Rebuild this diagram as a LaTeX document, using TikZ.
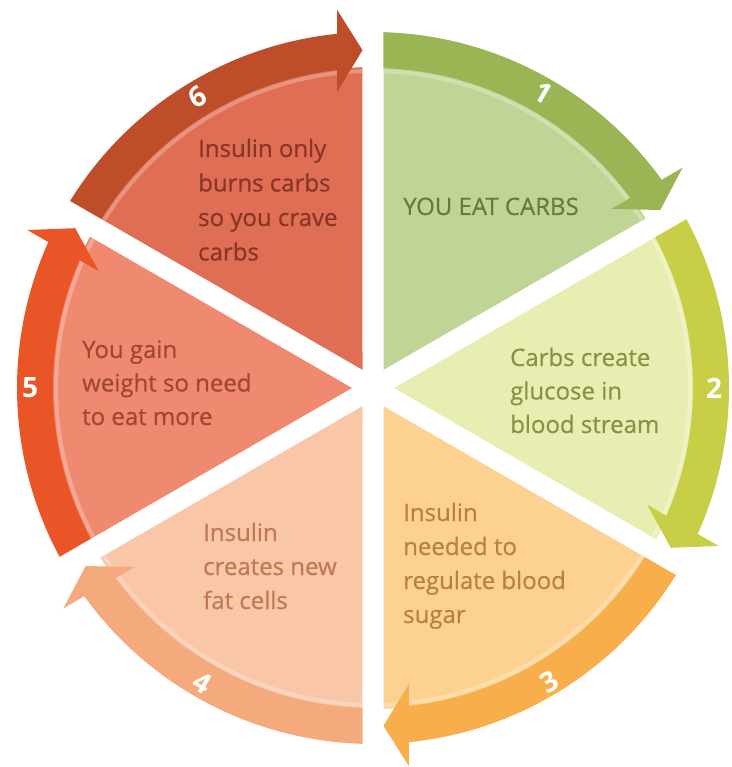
\documentclass[tikz,border=0pt]{standalone}
\usepackage{fontspec}
\setmainfont{Open Sans}
\newfontfamily\slicefont[FakeBold=0.5]{Open Sans}
% wedge fills
\definecolor{wA}{HTML}{C0D496}
\definecolor{wB}{HTML}{E8EEB2}
\definecolor{wC}{HTML}{FDD291}
\definecolor{wD}{HTML}{F9C6A8}
\definecolor{wE}{HTML}{EF8A70}
\definecolor{wF}{HTML}{E06E55}
% bands
\definecolor{bA}{HTML}{9BB555}
\definecolor{bB}{HTML}{C8CE46}
\definecolor{bC}{HTML}{F8AF4B}
\definecolor{bD}{HTML}{F5AA7D}
\definecolor{bE}{HTML}{EA5528}
\definecolor{bF}{HTML}{BE4E2A}
% texts
\definecolor{tA}{HTML}{6A7A38}
\definecolor{tB}{HTML}{889242}
\definecolor{tC}{HTML}{B58246}
\definecolor{tD}{HTML}{C07855}
\definecolor{tE}{HTML}{A04633}
\definecolor{tF}{HTML}{883526}

\newcommand{\cycslice}[3]{%
  \pgfmathsetmacro{\angLo}{#1-30}%
  \pgfmathsetmacro{\angHi}{#1+30}%
  \fill[#2] (#1:21) -- (\angLo+1.880:321)
    arc[start angle=\angLo+1.880, end angle=\angHi-1.880, radius=321] -- cycle;
  \draw[#2!75!white, line width=4pt] (\angLo+2.0:317)
    arc[start angle=\angLo+2.0, end angle=\angHi-2.0, radius=317];
  \fill[#3] (\angHi-1.690:356)
    arc[start angle=\angHi-1.690, end angle=\angLo+5.804, radius=356]
    -- (\angLo+5.436:380) -- (\angLo+1.780:338) -- (\angLo+6.939:298)
    -- (\angLo+6.459:320)
    arc[start angle=\angLo+6.459, end angle=\angHi-1.880, radius=320] -- cycle;
}

\begin{document}
\begin{tikzpicture}[x=1pt,y=1pt,
  txt/.style={anchor=base west, inner sep=0pt, font=\slicefont\fontsize{24}{34}\selectfont},
  num/.style={text=white, inner sep=0pt, font=\bfseries\fontsize{28}{28}\selectfont}]
\useasboundingbox (-373,-379) rectangle (358,388);

\cycslice{60}{wA}{bA}
\cycslice{0}{wB}{bB}
\cycslice{-60}{wC}{bC}
\cycslice{-120}{wD}{bD}
\cycslice{180}{wE}{bE}
\cycslice{120}{wF}{bF}

% numbers on the arrows
\node[num, rotate=-30] (n1) at (60:341) {1};
\node[num] (n2) at (0:341) {2};
\node[num, rotate=30] (n3) at (-59:343) {3};
\node[num, rotate=-30] (n4) at (-120:341) {4};
\node[num] (n5) at (180:343) {5};
\node[num, rotate=30] (n6) at (121:340) {6};

% texts
\node[txt, text=tA] (t1a) at (30,173) {YOU EAT CARBS};

\node[txt, text=tB] (t2a) at (137,22) {Carbs create};
\node[txt, text=tB] (t2b) at (137,-11.5) {glucose in};
\node[txt, text=tB] (t2c) at (137,-45) {blood stream};

\node[txt, text=tC] (t3a) at (30,-133) {Insulin};
\node[txt, text=tC] (t3b) at (30,-167) {needed to};
\node[txt, text=tC] (t3c) at (30,-201) {regulate blood};
\node[txt, text=tC] (t3d) at (30,-235) {sugar};

\node[txt, text=tD] (t4a) at (-170,-153) {Insulin};
\node[txt, text=tD] (t4b) at (-170,-187) {creates new};
\node[txt, text=tD] (t4c) at (-170,-221) {fat cells};

\node[txt, text=tE] (t5a) at (-291,30) {You gain};
\node[txt, text=tE] (t5b) at (-291,-3.5) {weight so need};
\node[txt, text=tE] (t5c) at (-291,-37) {to eat more};

\node[txt, text=tF] (t6a) at (-175,231) {Insulin only};
\node[txt, text=tF] (t6b) at (-175,196.5) {burns carbs};
\node[txt, text=tF] (t6c) at (-175,162) {so you crave};
\node[txt, text=tF] (t6d) at (-175,127.5) {carbs};
\end{tikzpicture}
\end{document}
